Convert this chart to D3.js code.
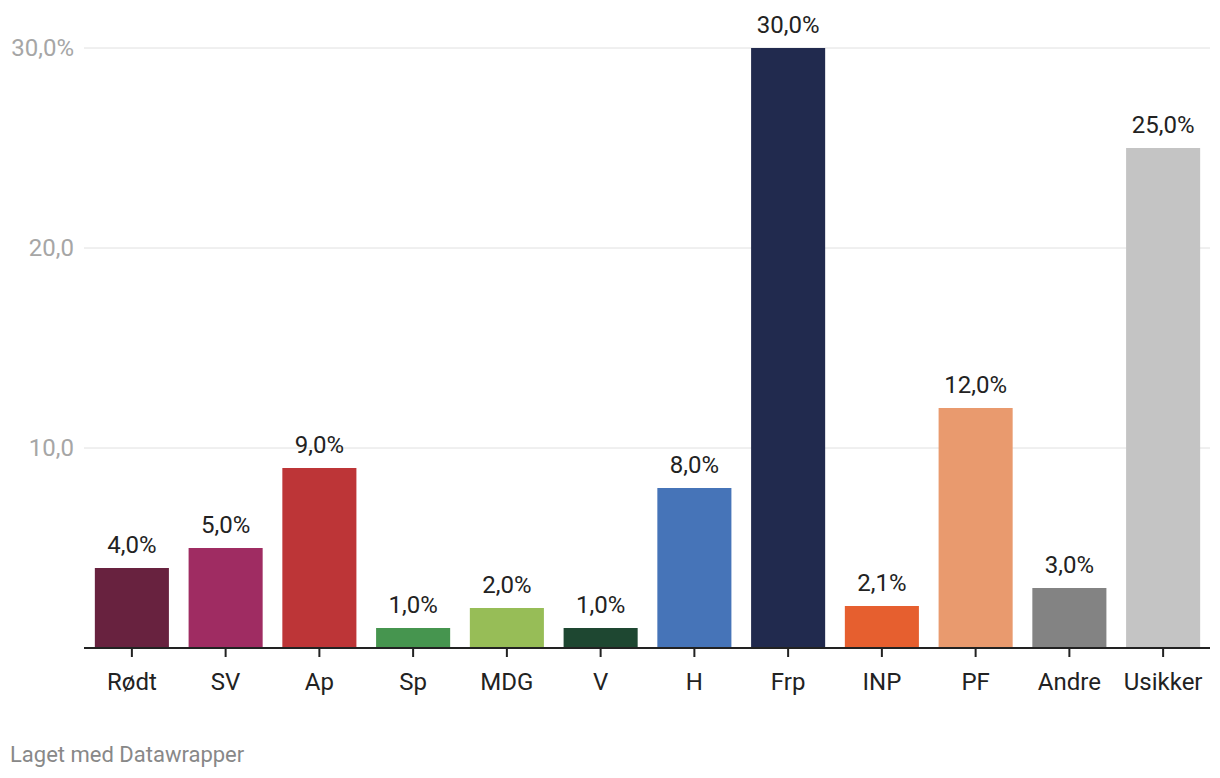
<!DOCTYPE html>
<html><head><meta charset="utf-8">
<script src="https://cdn.jsdelivr.net/npm/d3@7"></script>
<style>
html,body{margin:0;padding:0;background:#fff;}
svg{display:block;font-family:Roboto,"Noto Sans",sans-serif;}
</style></head>
<body>
<svg id="chart" width="1220" height="778"></svg>
<script>
const categories = ["Rødt","SV","Ap","Sp","MDG","V","H","Frp","INP","PF","Andre","Usikker"];
const values = [4.0,5.0,9.0,1.0,2.0,1.0,8.0,30.0,2.1,12.0,3.0,25.0];
const colors = ["#68223f","#9f2c62","#bd3537","#46954f","#97bd57","#1e4731","#4674b8","#212a4e","#e65f2f","#e99a6e","#838383","#c4c4c4"];
const yTicks = [10,20,30];
const yTickLabels = ["10,0","20,0","30,0%"];

const svg = d3.select("#chart");
const x = d3.scaleBand().domain(categories).range([85,1210]).paddingInner(0.21).paddingOuter(0.105);
const y = d3.scaleLinear().domain([0,30]).range([648,48]);

// gridlines
svg.append("g").selectAll("line").data(yTicks).join("line")
  .attr("x1",84).attr("x2",1210)
  .attr("y1",d=>y(d)).attr("y2",d=>y(d))
  .attr("stroke","#e0e0e0").attr("stroke-width",1);

svg.append("g").selectAll("text").data(yTicks).join("text")
  .attr("x",74).attr("y",d=>y(d)).attr("dy","0.35em")
  .attr("text-anchor","end").attr("fill","#a6a6a6")
  .attr("font-size",24).text((d,i)=>yTickLabels[i]);

// bars
svg.append("g").selectAll("rect").data(categories).join("rect")
  .attr("x",d=>x(d)).attr("width",x.bandwidth())
  .attr("y",(d,i)=>y(values[i])).attr("height",(d,i)=>y(0)-y(values[i]))
  .attr("fill",(d,i)=>colors[i]);

// value labels
const fmt = v => v.toFixed(1).replace(".",",")+"%";
svg.append("g").selectAll("text").data(categories).join("text")
  .attr("x",d=>x(d)+x.bandwidth()/2).attr("y",(d,i)=>y(values[i])-15)
  .attr("text-anchor","middle").attr("fill","#222").attr("font-size",24)
  .text((d,i)=>fmt(values[i]));

// x axis
const xAxis = svg.append("g").attr("transform","translate(0,648)")
  .call(d3.axisBottom(x).tickSize(9).tickPadding(16));
xAxis.select(".domain").remove();
xAxis.selectAll(".tick line").attr("stroke","#222").attr("stroke-width",2);
xAxis.selectAll(".tick text").attr("fill","#222").attr("font-size",24)
  .attr("font-family","Roboto,'Noto Sans',sans-serif");
svg.append("line").attr("x1",84).attr("x2",1210).attr("y1",648).attr("y2",648)
  .attr("stroke","#222").attr("stroke-width",2);

svg.append("text").attr("x",10).attr("y",762).attr("fill","#888")
  .attr("font-size",22).text("Laget med Datawrapper");
</script>
</body></html>
